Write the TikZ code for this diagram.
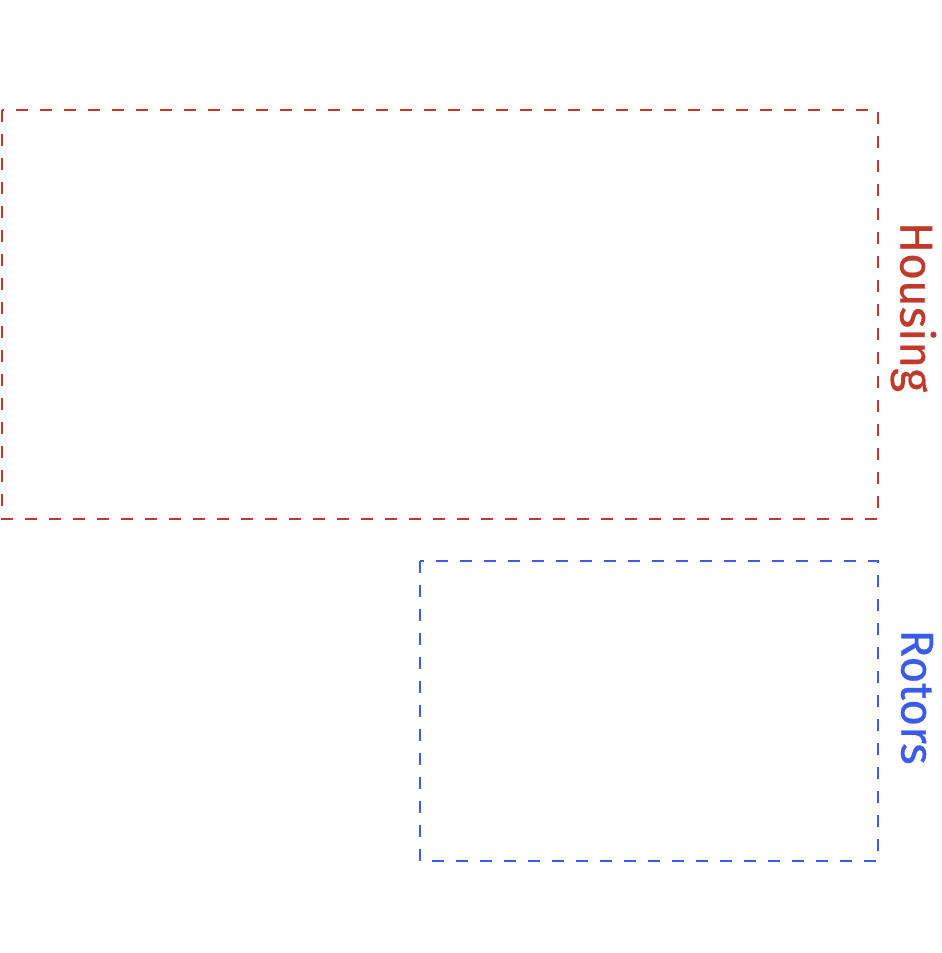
\documentclass[tikz,border=0pt]{standalone}
\usepackage{fontspec}
\setmainfont{Fira Sans}
\newfontfamily\lblfont{Fira Sans}[UprightFeatures={FakeBold=0.5}]
\definecolor{housred}{HTML}{C0392B}
\definecolor{rotblue}{HTML}{3B5BEB}
\tikzset{
  groupbox/.style={draw=#1, line width=1.6pt, dash pattern=on 12pt off 12pt},
  grouplabel/.style={text=#1, font=\fontsize{46}{52}\lblfont, rotate=-90, inner sep=0pt}
}
\begin{document}
\begin{tikzpicture}[x=1pt,y=-1pt]
\useasboundingbox (0,0) rectangle (942,953);
\draw[groupbox=housred] (2,110) rectangle (878,519);
\draw[groupbox=rotblue] (420,561) rectangle (878,861);
\node[grouplabel=housred] (housing) at (913.5,307) {Housing};
\node[grouplabel=rotblue] (rotors) at (917,697) {Rotors};
\end{tikzpicture}
\end{document}
